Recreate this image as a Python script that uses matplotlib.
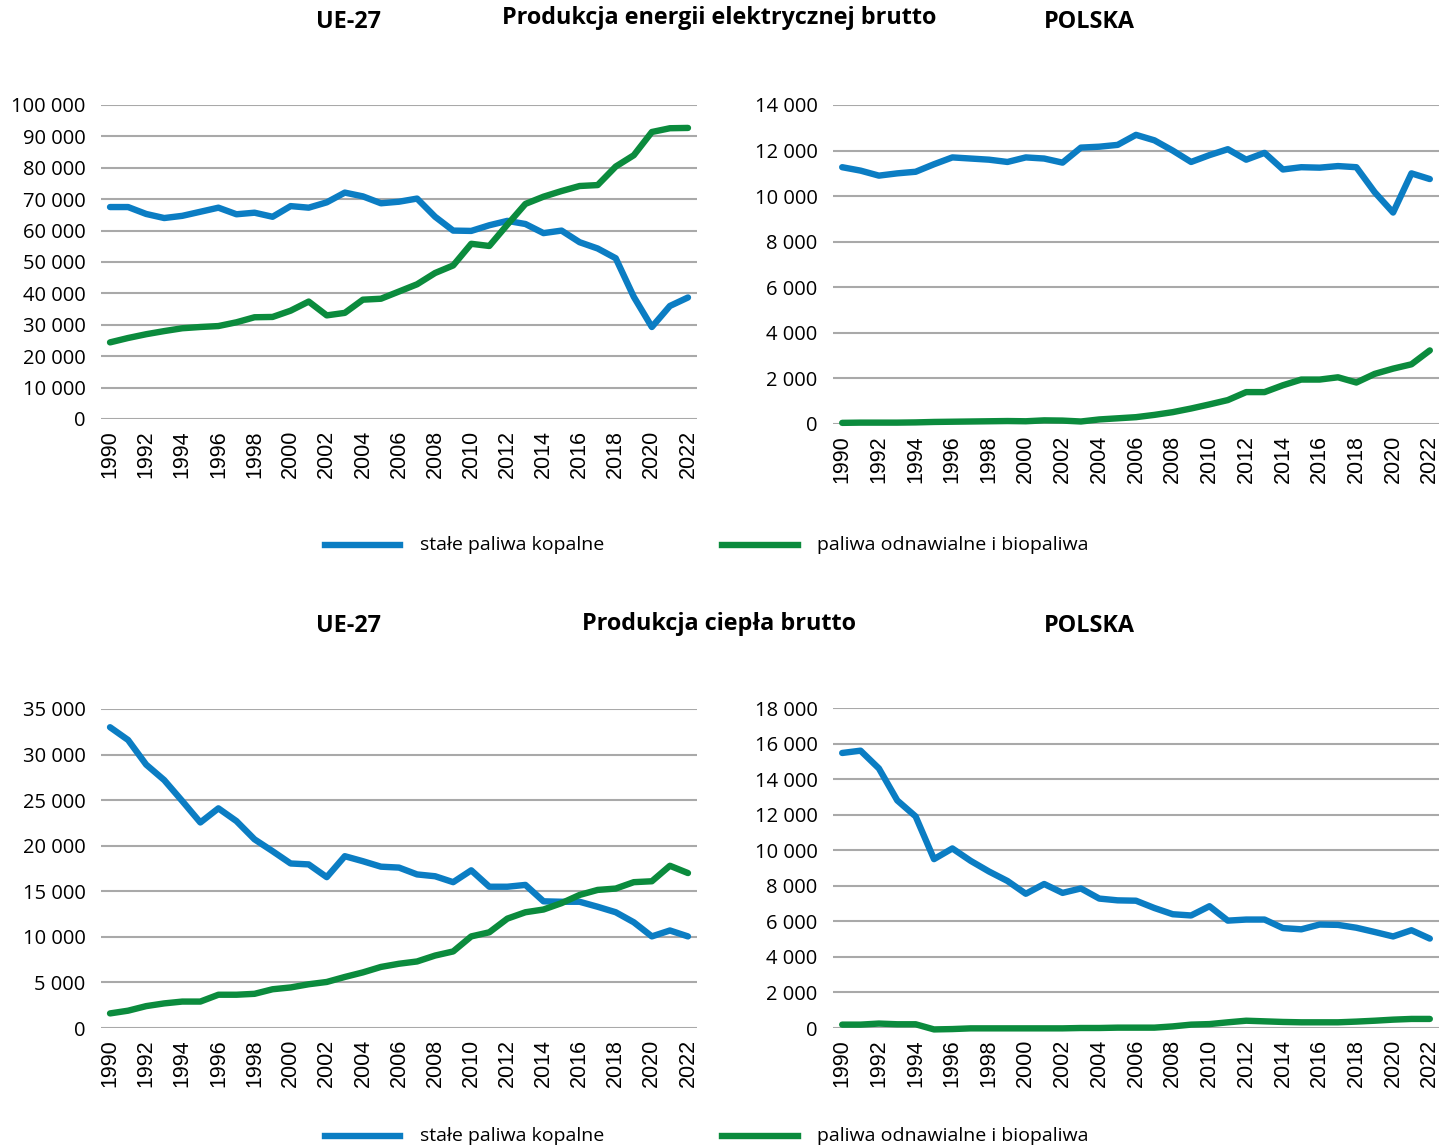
import matplotlib
matplotlib.use("Agg")
import matplotlib.pyplot as plt
from matplotlib.lines import Line2D
from matplotlib.ticker import FuncFormatter, MultipleLocator

# ---------------- data ----------------
years = list(range(1990, 2023))
series_labels = ["stałe paliwa kopalne", "paliwa odnawialne i biopaliwa"]

# Electricity, EU-27 (GWh)
el_eu_solid = [67500, 67500, 65300, 64000, 64700, 66000, 67300, 65200, 65700, 64400,
               67800, 67300, 69000, 72100, 70900, 68700, 69200, 70200, 64400, 60000,
               59900, 61700, 63100, 62100, 59200, 60000, 56300, 54300, 51200, 38900,
               29300, 36000, 38700]
el_eu_renew = [24400, 25800, 27000, 28000, 28900, 29300, 29600, 30800, 32400, 32500,
               34500, 37400, 33000, 33800, 38000, 38300, 40600, 42900, 46500, 48900,
               55800, 55100, 61900, 68500, 70800, 72600, 74200, 74500, 80400, 84000,
               91400, 92600, 92700]

# Electricity, Poland
el_pl_solid = [11270, 11120, 10900, 11000, 11070, 11400, 11700, 11650, 11600, 11500,
               11700, 11650, 11470, 12130, 12170, 12250, 12690, 12450, 12000, 11500,
               11800, 12060, 11600, 11900, 11170, 11270, 11250, 11320, 11270, 10170,
               9280, 11000, 10750]
el_pl_renew = [50, 60, 60, 60, 70, 90, 100, 110, 120, 130, 120, 160, 150, 110,
               200, 250, 300, 400, 520, 680, 860, 1050, 1400, 1400, 1700, 1950,
               1950, 2050, 1820, 2200, 2430, 2620, 3230]

# Heat, EU-27
ht_eu_solid = [33000, 31600, 28900, 27200, 24900, 22550, 24100, 22700, 20700, 19400,
               18050, 17950, 16550, 18850, 18300, 17700, 17600, 16850, 16650, 16000,
               17300, 15500, 15500, 15700, 13900, 13850, 13850, 13300, 12700, 11600,
               10050, 10700, 10050]
ht_eu_renew = [1600, 1900, 2400, 2700, 2900, 2900, 3650, 3650, 3750, 4250,
               4450, 4800, 5050, 5600, 6100, 6700, 7050, 7300, 7950, 8400,
               10050, 10500, 12000, 12700, 13000, 13700, 14600, 15150, 15300, 16000,
               16100, 17800, 17000]

# Heat, Poland
ht_pl_solid = [15470, 15600, 14600, 12800, 11900, 9500, 10100, 9400, 8800, 8270,
               7550, 8100, 7600, 7850, 7280, 7180, 7160, 6750, 6400, 6330,
               6850, 6040, 6100, 6100, 5620, 5550, 5820, 5800, 5640, 5400,
               5150, 5500, 5030]
ht_pl_renew = [190, 190, 250, 210, 210, -80, -60, -20, -20, -20, -20, -20, -20, 0,
               0, 20, 20, 20, 90, 190, 220, 320, 410, 375, 340, 320, 320, 320,
               360, 410, 470, 510, 510]

titles_top = ["UE-27", "Produkcja energii elektrycznej brutto", "POLSKA"]
titles_bot = ["UE-27", "Produkcja ciepła brutto", "POLSKA"]

BLUE = "#0b7dc3"
GREEN = "#0b8b3d"
GRID = "#a9a9a9"
LW = 4.6

plt.rcParams["font.family"] = ["Open Sans", "DejaVu Sans"]

W, H = 1450, 1147
fig = plt.figure(figsize=(W / 100, H / 100), dpi=100)


def px_axes(left, right, top, bottom):
    return fig.add_axes([left / W, 1 - bottom / H, (right - left) / W, (bottom - top) / H])


def fmt(v, pos):
    return f"{int(round(v)):,}".replace(",", " ")


def setup(ax, solid, renew, ymax, step):
    x = list(range(len(years)))
    ax.plot(x, solid, color=BLUE, lw=LW, solid_capstyle="round", solid_joinstyle="round",
            clip_on=False, zorder=3)
    ax.plot(x, renew, color=GREEN, lw=LW, solid_capstyle="round", solid_joinstyle="round",
            clip_on=False, zorder=3)
    ax.set_xlim(-0.5, len(years) - 0.5)
    ax.set_ylim(0, ymax)
    ax.yaxis.set_major_locator(MultipleLocator(step))
    ax.yaxis.set_major_formatter(FuncFormatter(fmt))
    ax.grid(axis="y", color=GRID, lw=1.5, zorder=0)
    ax.set_axisbelow(True)
    for s in ax.spines.values():
        s.set_visible(False)
    ax.set_xticks(x[::2])
    ax.set_xticklabels([str(y) for y in years[::2]], rotation=90,
                       fontfamily="Liberation Sans", fontsize=15.5)
    ax.tick_params(axis="x", length=0, pad=8)
    ax.tick_params(axis="y", length=0, pad=11, labelsize=14.5)


ax1 = px_axes(101, 697, 105, 419)
setup(ax1, el_eu_solid, el_eu_renew, 100000, 10000)
ax2 = px_axes(833, 1439, 105, 424)
setup(ax2, el_pl_solid, el_pl_renew, 14000, 2000)
ax3 = px_axes(101, 697, 709, 1028)
setup(ax3, ht_eu_solid, ht_eu_renew, 35000, 5000)
ax4 = px_axes(833, 1439, 708, 1028)
setup(ax4, ht_pl_solid, ht_pl_renew, 18000, 2000)


def title_row(texts, ys):
    for t, xc, yc in zip(texts, [349, 719, 1089], ys):
        fig.text(xc / W, 1 - yc / H, t, ha="center", va="center", fontsize=16.8,
                 fontweight="bold")


title_row(titles_top, [22, 18, 22])
title_row(titles_bot, [626, 624, 626])


def legend_row(yc):
    for (x0, x1, tx), lab, col in zip([(325, 400, 420), (722, 798, 817)], series_labels,
                                      [BLUE, GREEN]):
        fig.add_artist(Line2D([x0 / W, x1 / W], [1 - yc / H, 1 - yc / H], color=col, lw=LW))
        fig.text(tx / W, 1 - yc / H, lab, ha="left", va="center", fontsize=14)


legend_row(545)
legend_row(1136)

fig.savefig("out.png", dpi=100)
